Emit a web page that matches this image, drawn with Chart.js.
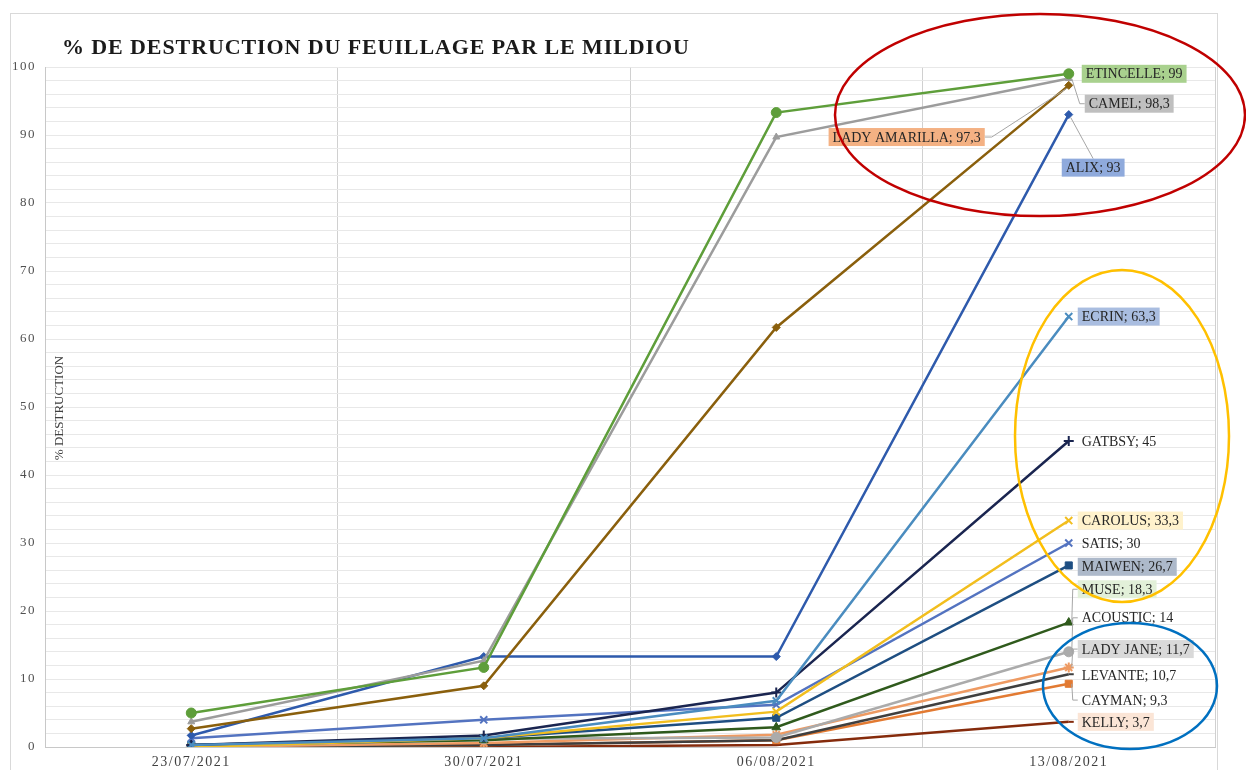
<!DOCTYPE html>
<html>
<head>
<meta charset="utf-8">
<script src="https://cdn.jsdelivr.net/npm/chart.js@4.4.0/dist/chart.umd.min.js"></script>
<style>
html, body { margin: 0; background: #fff; }
</style>
</head>
<body>
<canvas id="myChart" width="1246" height="770"></canvas>
<script>
// dates des notations
var dates = ['23/07/2021', '30/07/2021', '06/08/2021', '13/08/2021'];

// % destruction par variete
var etincelle    = [5, 11.7, 93.3, 99];
var camel        = [3.7, 12.7, 89.7, 98.3];
var ladyAmarilla = [2.7, 9, 61.7, 97.3];
var alix         = [1.7, 13.3, 13.3, 93];
var ecrin        = [0.3, 1.3, 6.8, 63.3];
var gatbsy       = [0.3, 1.7, 8, 45];
var carolus      = [0, 1.3, 5.2, 33.3];
var satis        = [1.3, 4, 6.2, 30];
var maiwen       = [0.3, 1.3, 4.3, 26.7];
var muse         = [0.3, 1, 2.9, 18.3];
var acoustic     = [0, 1.2, 1.4, 14];
var ladyJane     = [0, 0.6, 1.8, 11.7];
var levante      = [0, 0.3, 1, 10.7];
var cayman       = [0, 0.3, 1, 9.3];
var kelly        = [0, 0, 0.3, 3.7];

var yTicksMax = 100;

// styles des courbes
var series = [
    {name: 'ETINCELLE',     data: etincelle,    color: '#5E9E3A', marker: 'circle',   r: 5},
    {name: 'CAMEL',         data: camel,        color: '#9C9C9C', marker: 'triangle', r: 4},
    {name: 'LADY AMARILLA', data: ladyAmarilla, color: '#8A5F0C', marker: 'rectRot',  r: 4},
    {name: 'ALIX',          data: alix,         color: '#2E5AAC', marker: 'rectRot',  r: 4},
    {name: 'ECRIN',         data: ecrin,        color: '#4A8CBF', marker: 'crossRot', r: 5},
    {name: 'GATBSY',        data: gatbsy,       color: '#1A2550', marker: 'cross',    r: 5},
    {name: 'CAROLUS',       data: carolus,      color: '#F2BE1E', marker: 'crossRot', r: 5},
    {name: 'SATIS',         data: satis,        color: '#5373C0', marker: 'crossRot', r: 5},
    {name: 'MAIWEN',        data: maiwen,       color: '#1E4E82', marker: 'rect',     r: 5},
    {name: 'MUSE',          data: muse,         color: '#2F5A1C', marker: 'triangle', r: 5},
    {name: 'ACOUSTIC',      data: acoustic,     color: '#ABABAB', marker: 'circle',   r: 5},
    {name: 'LADY JANE',     data: ladyJane,     color: '#EE9A62', marker: 'star',     r: 5},
    {name: 'LEVANTE',       data: levante,      color: '#3F3F3F', marker: 'dash',     r: 5},
    {name: 'CAYMAN',        data: cayman,       color: '#E27A32', marker: 'rect',     r: 5},
    {name: 'KELLY',         data: kelly,        color: '#852B0C', marker: 'dash',     r: 5}
];

// placement des etiquettes (hauteur en unites de l'axe, dx en px depuis le point)
var labelLayout = [
    {at: 99,   dx: 17,  bg: '#A9D18E'},
    {at: 94.6, dx: 20,  bg: '#BFBFBF', leader: 'left'},
    {at: 89.7, dx: -88, bg: '#F4B183', leader: 'right', alignRight: true},
    {at: 85.2, dx: -3,  bg: '#8FAADC', leader: 'top'},
    {at: 63.3, dx: 13,  bg: '#A9BDE0'},
    {at: 45,   dx: 13},
    {at: 33.3, dx: 13,  bg: '#FFF2CC'},
    {at: 30,   dx: 13},
    {at: 26.5, dx: 13,  bg: '#ADB9CA'},
    {at: 23.2, dx: 13,  bg: '#E2F0D9', leader: 'left'},
    {at: 19,   dx: 13,  leader: 'left'},
    {at: 14.4, dx: 13,  bg: '#D9D9D9', leader: 'left'},
    {at: 10.6, dx: 13},
    {at: 6.9,  dx: 13,  leader: 'left'},
    {at: 3.7,  dx: 13,  bg: '#FBE5D6'}
];

var serif = '"Liberation Serif", "DejaVu Serif", serif';

function frNum(v) {
    return String(v).replace('.', ',');
}

var spacingPlugin = {
    id: 'spacing',
    beforeDraw: function(chart) {
        chart.ctx.letterSpacing = '1.5px';
    },
    afterDraw: function(chart) {
        chart.ctx.letterSpacing = '0px';
    }
};

var labelPlugin = {
    id: 'valueLabels',
    afterDatasetsDraw: function(chart) {
        var ctx = chart.ctx;
        var xs = chart.scales.x, ys = chart.scales.y;
        ctx.save();
        ctx.letterSpacing = '0px';
        ctx.font = '14px ' + serif;
        ctx.textBaseline = 'middle';
        chart.data.datasets.forEach(function(ds, i) {
            var last = ds.data.length - 1;
            var px = xs.getPixelForValue(last);
            var py = ys.getPixelForValue(ds.data[last]);
            var lay = labelLayout[i];
            var text = ds.label + '; ' + frNum(ds.data[last]);
            var w = ctx.measureText(text).width;
            var ly = ys.getPixelForValue(lay.at);
            var tx = lay.alignRight ? px + lay.dx - w : px + lay.dx;
            var l = tx - 4, r = tx + w + 4, t = ly - 9, b = ly + 9;

            if (lay.leader) {
                ctx.strokeStyle = '#A6A6A6';
                ctx.lineWidth = 1;
                ctx.beginPath();
                if (lay.leader == 'left') {
                    ctx.moveTo(l, ly);
                    ctx.lineTo(l - 5, ly);
                    ctx.lineTo(px + 3, py);
                } else if (lay.leader == 'right') {
                    ctx.moveTo(r, ly);
                    ctx.lineTo(r + 7, ly);
                    ctx.lineTo(px - 2, py + 3);
                } else {
                    ctx.moveTo((l + r) / 2, t);
                    ctx.lineTo(px + 2, py + 3);
                }
                ctx.stroke();
            }
            if (lay.bg) {
                ctx.fillStyle = lay.bg;
                ctx.fillRect(l, t, r - l, b - t);
            }
            ctx.fillStyle = '#262626';
            ctx.textAlign = 'left';
            ctx.fillText(text, tx, ly + 1);
        });
        ctx.restore();
    }
};

var decorPlugin = {
    id: 'decor',
    afterDraw: function(chart) {
        var ctx = chart.ctx;
        var area = chart.chartArea;
        ctx.save();
        ctx.letterSpacing = '0px';

        // cadre
        ctx.strokeStyle = '#D9D9D9';
        ctx.lineWidth = 1;
        ctx.strokeRect(10.5, 13.5, 1207, 780);

        // titre
        ctx.fillStyle = '#1A1A1A';
        ctx.font = 'bold 22px ' + serif;
        ctx.letterSpacing = '0.9px';
        ctx.textAlign = 'left';
        ctx.textBaseline = 'alphabetic';
        ctx.fillText('% DE DESTRUCTION DU FEUILLAGE PAR LE MILDIOU', 62, 54);
        ctx.letterSpacing = '0px';

        // titre axe Y
        ctx.save();
        ctx.translate(area.left + 15, 408);
        ctx.rotate(-Math.PI / 2);
        ctx.font = '13px ' + serif;
        ctx.fillStyle = '#404040';
        ctx.textAlign = 'center';
        ctx.textBaseline = 'middle';
        ctx.fillText('% DESTRUCTION', 0, 0);
        ctx.restore();

        // ellipses
        ctx.lineWidth = 2.5;
        ctx.strokeStyle = '#C00000';
        ctx.beginPath();
        ctx.ellipse(1040, 115, 205, 101, 0, 0, Math.PI * 2);
        ctx.stroke();
        ctx.strokeStyle = '#FFC000';
        ctx.beginPath();
        ctx.ellipse(1122, 436, 107, 166, 0, 0, Math.PI * 2);
        ctx.stroke();
        ctx.strokeStyle = '#0070C0';
        ctx.beginPath();
        ctx.ellipse(1130, 686, 87, 63, 0, 0, Math.PI * 2);
        ctx.stroke();
        ctx.restore();
    }
};

var datasets = [];
for (var i = 0; i < series.length; i++) {
    var s = series[i];
    datasets.push({
        label: s.name,
        data: s.data,
        borderColor: s.color,
        backgroundColor: s.color,
        borderWidth: 2.5,
        pointStyle: s.marker,
        pointRadius: s.r,
        pointBorderWidth: (s.marker == 'circle' || s.marker == 'rect' || s.marker == 'triangle' || s.marker == 'rectRot') ? 1 : 2,
        tension: 0,
        order: i
    });
}

var ctx = document.getElementById('myChart').getContext('2d');
var myChart = new Chart(ctx, {
    type: 'line',
    data: {
        labels: dates,
        datasets: datasets
    },
    options: {
        responsive: false,
        animation: false,
        layout: {
            padding: {left: 0, top: 67, right: 31, bottom: 0}
        },
        plugins: {
            legend: {display: false},
            tooltip: {enabled: false}
        },
        scales: {
            x: {
                offset: true,
                grid: {
                    offset: true,
                    color: '#D0D0D0',
                    drawTicks: false
                },
                border: {color: '#C8C8C8'},
                ticks: {
                    color: '#404040',
                    font: {family: serif, size: 14},
                    padding: 7,
                    maxRotation: 0
                },
                afterFit: function(scale) { scale.height = 23; }
            },
            y: {
                min: 0,
                max: yTicksMax,
                grid: {
                    color: '#E8E8E8',
                    drawTicks: false
                },
                border: {color: '#C8C8C8'},
                ticks: {
                    stepSize: 2,
                    autoSkip: false,
                    color: '#505050',
                    font: {family: serif, size: 13},
                    padding: 9,
                    callback: function(v) { return v % 10 === 0 ? v : ''; }
                },
                afterFit: function(scale) { scale.width = 45; }
            }
        }
    },
    plugins: [spacingPlugin, labelPlugin, decorPlugin]
});
</script>
</body>
</html>
